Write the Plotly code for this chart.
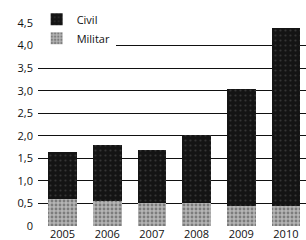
import plotly.graph_objects as go

years = ["2005", "2006", "2007", "2008", "2009", "2010"]
militar = [0.60, 0.55, 0.50, 0.50, 0.45, 0.45]
civil = [1.04, 1.25, 1.19, 1.52, 2.59, 3.95]
ytick_vals = [0, 0.5, 1.0, 1.5, 2.0, 2.5, 3.0, 3.5, 4.0, 4.5]
ytick_text = ["0", "0,5", "1,0", "1,5", "2,0", "2,5", "3,0", "3,5", "4,0", "4,5"]

fig = go.Figure()
fig.add_trace(go.Bar(
    x=years, y=militar, name="Militar",
    marker=dict(color="#9a9a9a", line=dict(width=0),
                pattern=dict(shape=".", fgcolor="#444444", bgcolor="#b5b5b5", size=4, solidity=0.4)),
))
fig.add_trace(go.Bar(
    x=years, y=civil, name="Civil",
    marker=dict(color="#141414", line=dict(width=0),
                pattern=dict(shape=".", fgcolor="#555555", bgcolor="#141414", size=5, solidity=0.15)),
))

fig.update_layout(
    width=306, height=240,
    margin=dict(l=38, r=0, t=23, b=14, autoexpand=False),
    barmode="stack", bargap=0.36,
    paper_bgcolor="white", plot_bgcolor="white",
    font=dict(family="Open Sans", size=11, color="#111111"),
    showlegend=True,
    legend=dict(x=-0.005, y=1.09, xanchor="left", yanchor="top",
                bgcolor="white", borderwidth=0,
                font=dict(size=11, color="#111111"),
                itemwidth=30, tracegroupgap=0),
    xaxis=dict(range=[-0.55, 5.45], showgrid=False, zeroline=False, showline=False,
               ticks="", automargin=False, ticklabelstandoff=0,
               tickfont=dict(size=11, color="#111111")),
    yaxis=dict(range=[0, 4.5], tickvals=ytick_vals, ticktext=ytick_text,
               showgrid=True, gridcolor="#111111", gridwidth=1.2,
               zeroline=False, showline=False, ticks="", automargin=False,
               ticklabelstandoff=4,
               tickfont=dict(size=11, color="#111111")),
)

fig.write_html("out.html", config={"displayModeBar": False},
               post_script="document.body.style.margin='0px';")
